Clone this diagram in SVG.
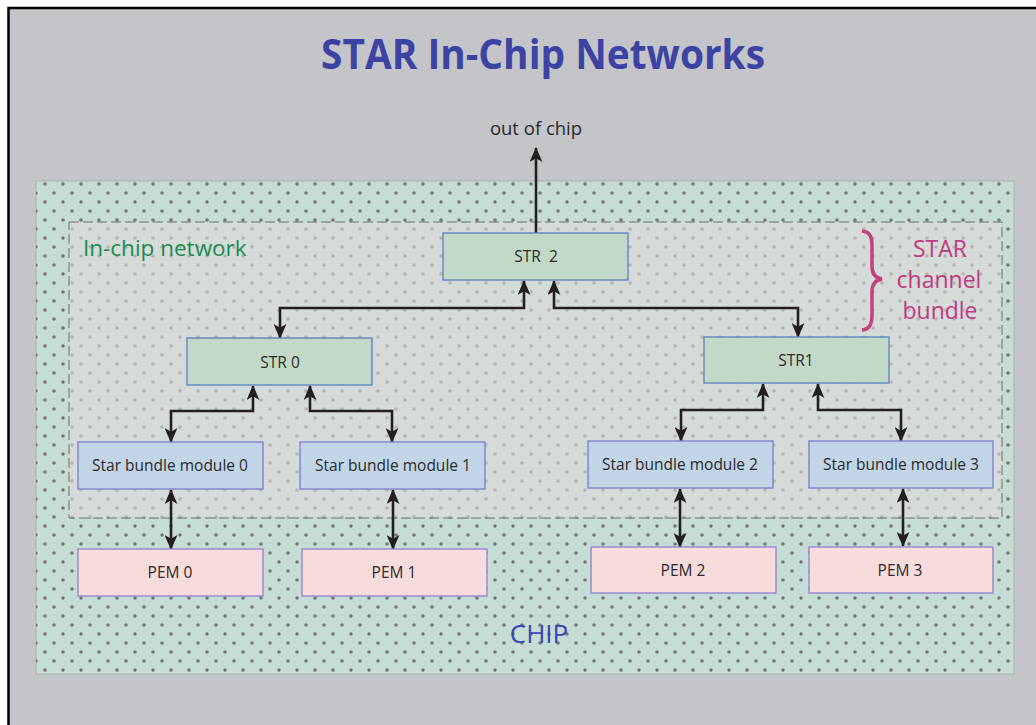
<svg xmlns="http://www.w3.org/2000/svg" width="1036" height="725" viewBox="0 0 1036 725">
<defs>
<pattern id="dots" x="0" y="0" width="18" height="18" patternUnits="userSpaceOnUse">
<circle cx="9" cy="4" r="1.8" fill="#767676"/>
<circle cx="0" cy="13" r="1.8" fill="#767676"/>
<circle cx="18" cy="13" r="1.8" fill="#767676"/>
</pattern>
<marker id="ah" viewBox="0 0 14 12" refX="13" refY="6" markerWidth="15" markerHeight="13" markerUnits="userSpaceOnUse" orient="auto-start-reverse">
<path d="M0,0 L14,6 L0,12 L3.5,6 z" fill="#231f20"/>
</marker>
<style>
.lbl{font-family:"Open Sans","Noto Sans","Liberation Sans",sans-serif;font-size:15.5px;fill:#2a2a2a;text-anchor:middle}
.str{fill:#c3d9c7;stroke:#5a80bd;stroke-width:1.3}
.sbm{fill:#c1d5e7;stroke:#7b7ec6;stroke-width:1.3}
.pem{fill:#f8dbdb;stroke:#8d80cf;stroke-width:1.3}
.con{fill:none;stroke:#231f20;stroke-width:2.6;marker-end:url(#ah)}
.dbl{marker-start:url(#ah)}
</style>
</defs>
<rect x="0" y="0" width="1036" height="725" fill="#ffffff"/>
<rect x="8.5" y="8" width="1040" height="730" fill="#c4c5c9" stroke="#000" stroke-width="2.5"/>
<text x="543" y="69" font-family="'Open Sans','Noto Sans','Liberation Sans',sans-serif" font-size="41" font-weight="700" fill="#3b44a3" text-anchor="middle" textLength="444" lengthAdjust="spacingAndGlyphs">STAR In-Chip Networks</text>
<text x="536" y="135" font-family="'Open Sans','Noto Sans','Liberation Sans',sans-serif" font-size="18.5" fill="#2a2a2a" text-anchor="middle">out of chip</text>

<g id="chip">
<rect x="36" y="181" width="978" height="493" fill="#c5ddd5" stroke="#aab2b0" stroke-width="1"/>
<rect x="36" y="181" width="978" height="493" fill="url(#dots)"/>
<text x="539" y="643" font-family="'Open Sans','Noto Sans','Liberation Sans',sans-serif" font-size="26" fill="#3a45b5" text-anchor="middle">CHIP</text>
</g>
<g id="in-chip-network">
<rect x="69" y="222" width="933" height="296" fill="#dedada" fill-opacity="0.6" stroke="#6d6d6d" stroke-width="1" stroke-dasharray="10,4"/>
<text x="83" y="256" font-family="'Open Sans','Noto Sans','Liberation Sans',sans-serif" font-size="22.5" fill="#1e8a4e">In-chip network</text>
</g>
<g id="bundle-label">
<path d="M862,231 C871,232 872,238 872,246 L872,266 C872,274 875,278 882,279 C875,280 872,284 872,292 L872,314 C872,322 871,329 862,330" fill="none" stroke="#c4407f" stroke-width="3.5"/>
<g font-family="'Open Sans','Noto Sans','Liberation Sans',sans-serif" font-size="23" fill="#c23a7e" text-anchor="middle">
<text x="940" y="257">STAR</text>
<text x="939" y="288">channel</text>
<text x="940" y="319">bundle</text>
</g>
</g>

<g id="connectors">
<path class="con" d="M536,233 V148"/>
<path class="con dbl" d="M524,281 V308 H280 V338"/>
<path class="con dbl" d="M554,281 V308 H798 V337"/>
<path class="con dbl" d="M253,386 V411 H171 V442"/>
<path class="con dbl" d="M310,386 V411 H392 V442"/>
<path class="con dbl" d="M763,384 V410 H681 V441"/>
<path class="con dbl" d="M818,384 V410 H901 V441"/>
<path class="con dbl" d="M171,490 V549"/>
<path class="con dbl" d="M393,490 V549"/>
<path class="con dbl" d="M680,489 V547"/>
<path class="con dbl" d="M903,489 V546"/>
</g>

<g id="str2"><rect class="str" x="443" y="233" width="185" height="47"/><text class="lbl" x="536" y="262" xml:space="preserve">STR  2</text></g>
<g id="str0"><rect class="str" x="187" y="338" width="185" height="47"/><text class="lbl" x="280" y="368">STR 0</text></g>
<g id="str1"><rect class="str" x="704" y="337" width="185" height="46"/><text class="lbl" x="796" y="366">STR1</text></g>
<g id="sbm0"><rect class="sbm" x="78" y="442" width="185" height="47"/><text class="lbl" x="170" y="471">Star bundle module 0</text></g>
<g id="sbm1"><rect class="sbm" x="300" y="442" width="185" height="47"/><text class="lbl" x="393" y="471">Star bundle module 1</text></g>
<g id="sbm2"><rect class="sbm" x="588" y="441" width="185" height="47"/><text class="lbl" x="680" y="470">Star bundle module 2</text></g>
<g id="sbm3"><rect class="sbm" x="809" y="441" width="184" height="47"/><text class="lbl" x="901" y="470">Star bundle module 3</text></g>
<g id="pem0"><rect class="pem" x="78" y="549" width="185" height="47"/><text class="lbl" x="170" y="578">PEM 0</text></g>
<g id="pem1"><rect class="pem" x="302" y="549" width="185" height="47"/><text class="lbl" x="394" y="578">PEM 1</text></g>
<g id="pem2"><rect class="pem" x="591" y="547" width="185" height="46"/><text class="lbl" x="683" y="576">PEM 2</text></g>
<g id="pem3"><rect class="pem" x="809" y="547" width="184" height="46"/><text class="lbl" x="900" y="576">PEM 3</text></g>
</svg>
